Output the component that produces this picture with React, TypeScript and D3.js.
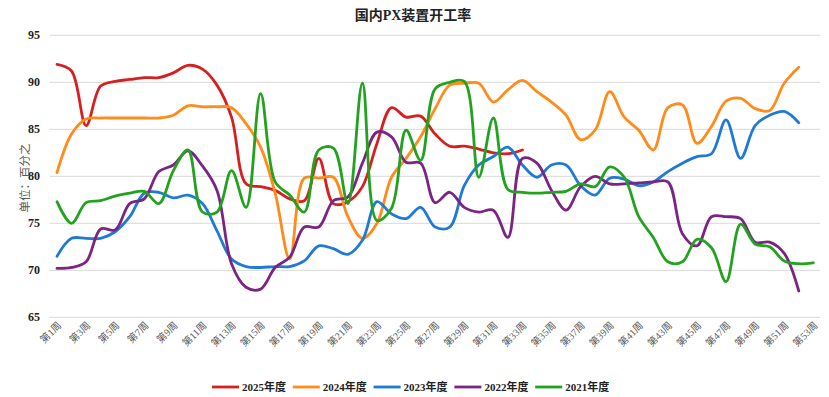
import React from "react";
import * as d3 from "d3";

const weeks: string[] = Array.from({ length: 53 }, (_, i) => `第${i + 1}周`);
const yTicks: number[] = [65, 70, 75, 80, 85, 90, 95];
const seriesNames: string[] = ["2025年度", "2024年度", "2023年度", "2022年度", "2021年度"];

const s2025: number[] = [91.9, 91.2, 85.4, 89.6, 90.1, 90.3, 90.5, 90.5, 91.0, 91.8, 91.4, 89.7, 86.3, 79.2, 78.9, 78.5, 77.6, 77.4, 81.9, 77.1, 77.3, 78.9, 83.5, 87.3, 86.3, 86.4, 84.5, 83.2, 83.2, 82.9, 82.5, 82.4, 82.8];
const s2024: number[] = [80.4, 84.5, 86.1, 86.2, 86.2, 86.2, 86.2, 86.2, 86.5, 87.5, 87.4, 87.4, 87.3, 85.6, 83.1, 78.2, 71.2, 79.8, 79.8, 79.9, 75.7, 73.4, 75.0, 79.9, 81.9, 84.2, 87.2, 89.7, 89.9, 89.9, 87.9, 89.2, 90.2, 89.0, 87.9, 86.5, 83.9, 84.9, 89.0, 86.3, 84.9, 82.8, 87.3, 87.6, 83.5, 85.3, 88.0, 88.3, 87.2, 87.0, 89.9, 91.6];
const s2023: number[] = [71.5, 73.4, 73.4, 73.4, 74.1, 75.7, 78.2, 78.3, 77.7, 78.0, 77.1, 74.2, 71.2, 70.4, 70.3, 70.4, 70.4, 71.0, 72.6, 72.3, 71.7, 73.2, 77.3, 76.0, 75.5, 76.7, 74.6, 74.6, 79.0, 81.2, 82.1, 83.1, 81.2, 79.9, 81.2, 81.2, 79.0, 78.0, 79.8, 79.7, 79.0, 79.4, 80.5, 81.4, 82.1, 82.4, 86.0, 81.9, 85.4, 86.5, 86.9, 85.7];
const s2022: number[] = [70.2, 70.3, 70.9, 74.4, 74.3, 77.1, 77.6, 80.5, 81.2, 82.7, 81.1, 78.5, 70.7, 68.2, 68.0, 70.3, 71.4, 74.6, 74.6, 77.4, 77.8, 81.4, 84.7, 84.2, 81.5, 81.4, 77.2, 78.3, 76.7, 76.2, 76.4, 73.5, 81.9, 81.4, 78.5, 76.4, 78.9, 80.0, 79.2, 79.2, 79.3, 79.4, 79.4, 73.9, 72.6, 75.7, 75.7, 75.5, 73.0, 73.0, 71.8, 67.8];
const s2021: number[] = [77.3, 75.0, 77.2, 77.4, 77.9, 78.2, 78.4, 77.1, 80.6, 82.8, 76.2, 76.2, 80.6, 76.7, 88.8, 79.4, 78.0, 76.2, 82.8, 83.0, 77.1, 89.9, 75.3, 76.6, 84.9, 81.7, 89.3, 90.0, 90.1, 79.9, 86.2, 78.6, 78.3, 78.2, 78.3, 78.4, 79.2, 78.9, 81.0, 79.9, 75.7, 73.5, 70.9, 70.9, 73.3, 72.4, 68.8, 74.9, 72.8, 72.5, 71.0, 70.7, 70.8];

const seriesValues: number[][] = [s2025, s2024, s2023, s2022, s2021];
const colors: string[] = ["#d6201f", "#ff8c1a", "#1f7ad6", "#7a2483", "#22a21f"];

const W = 829;
const H = 397;
const plotLeft = 49.7;
const plotRight = 820.3;
const plotTop = 35.3;
const plotBottom = 317.3;

const serif = "'Liberation Serif', 'Times New Roman', 'Noto Sans CJK SC', serif";

export default function App() {
  const x = d3.scalePoint<string>().domain(weeks).range([57, 813.3]);
  const y = d3.scaleLinear().domain([65, 95]).range([plotBottom, plotTop]);
  const line = d3
    .line<number>()
    .x((_, i) => x(weeks[i]) as number)
    .y((d) => y(d))
    .curve(d3.curveCatmullRom.alpha(0.5));

  const legendStart = 212;
  const legendStep = 80.8;
  const legendY = 387;

  return (
    <svg
      width={W}
      height={H}
      style={{ position: "absolute", left: 0, top: 0, background: "#fff" }}
    >
      <rect x={0} y={0} width={W} height={H} fill="#fff" />
      <text
        x={413}
        y={20}
        textAnchor="middle"
        fontFamily={serif}
        fontWeight="bold"
        fontSize={14}
        fill="#222"
      >
        国内PX装置开工率
      </text>
      {yTicks.map((t) => (
        <g key={t}>
          <line x1={plotLeft} x2={plotRight} y1={y(t)} y2={y(t)} stroke="#d9d9d9" strokeWidth={1} />
          <text
            x={40}
            y={y(t) + 4}
            textAnchor="end"
            fontFamily={serif}
            fontWeight="bold"
            fontSize={12}
            fill="#222"
          >
            {t}
          </text>
        </g>
      ))}
      <text
        transform={`translate(29, 178) rotate(-90)`}
        textAnchor="middle"
        fontFamily={serif}
        fontSize={11.5}
        fill="#595959"
      >
        单位：百分之
      </text>
      {weeks.map((w, i) =>
        i % 2 === 0 ? (
          <text
            key={w}
            transform={`translate(${(x(w) as number) + 5}, 326) rotate(-45)`}
            textAnchor="end"
            fontFamily={serif}
            fontSize={10}
            fill="#595959"
          >
            {w}
          </text>
        ) : null
      )}
      {seriesValues.map((vals, si) => (
        <path
          key={seriesNames[si]}
          d={line(vals) || ""}
          fill="none"
          stroke={colors[si]}
          strokeWidth={2.8}
          strokeLinejoin="round"
          strokeLinecap="round"
        />
      ))}
      {seriesNames.map((n, i) => {
        const lx = legendStart + i * legendStep;
        return (
          <g key={n}>
            <line x1={lx} x2={lx + 27} y1={legendY} y2={legendY} stroke={colors[i]} strokeWidth={2.8} />
            <text
              x={lx + 30}
              y={legendY + 4}
              fontFamily={serif}
              fontWeight="bold"
              fontSize={11}
              fill="#222"
            >
              {n}
            </text>
          </g>
        );
      })}
    </svg>
  );
}
